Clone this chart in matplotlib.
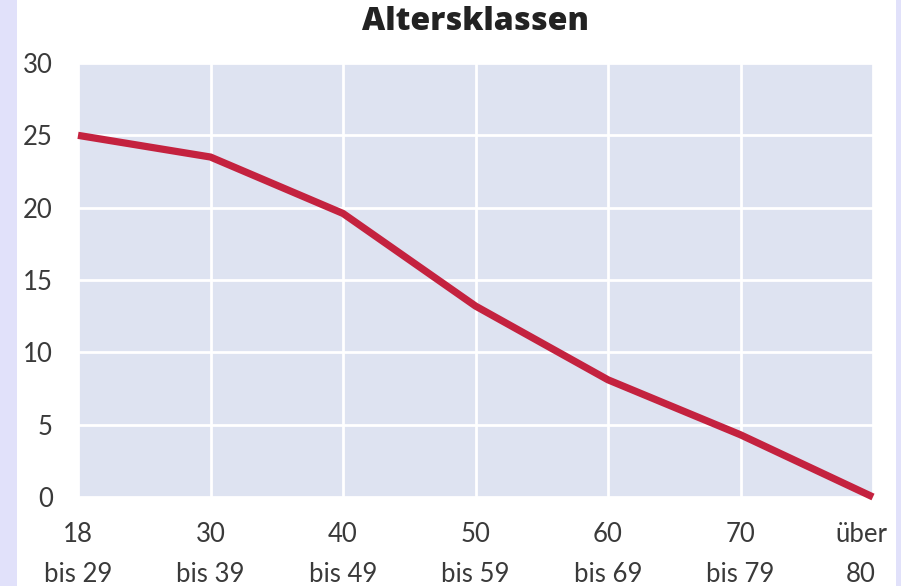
import matplotlib
matplotlib.use("Agg")
import matplotlib.pyplot as plt
import matplotlib.transforms as mtransforms
from matplotlib.patches import Rectangle

# data
klassen = ["18\nbis 29", "30\nbis 39", "40\nbis 49", "50\nbis 59",
           "60\nbis 69", "70\nbis 79", "über\n80"]
werte = [25.0, 23.5, 19.6, 13.2, 8.1, 4.3, 0.0]
y_ticks = [0, 5, 10, 15, 20, 25, 30]

plt.rcParams['font.family'] = ['Lato', 'DejaVu Sans']

fig = plt.figure(figsize=(9.01, 5.86), dpi=100)
fig.patch.set_facecolor("white")

# lavender side strips
fig.patches.append(Rectangle((0, 0), 17 / 901, 1, transform=fig.transFigure,
                             facecolor="#e1e1fa", edgecolor="none", zorder=0))
fig.patches.append(Rectangle((896 / 901, 0), 5 / 901, 1, transform=fig.transFigure,
                             facecolor="#e1e1fa", edgecolor="none", zorder=0))

ax = fig.add_axes([78 / 901, 89 / 586, 795 / 901, 434 / 586])
ax.set_facecolor("#dee3f1")

x = list(range(len(klassen)))
ax.plot(x, werte, color="#c4223f", linewidth=5.2, solid_capstyle="butt",
        solid_joinstyle="miter", zorder=3, clip_on=False)

ax.set_xlim(0, len(klassen) - 1)
ax.set_ylim(0, 30)
ax.set_xticks(x)
ax.set_xticklabels(klassen, linespacing=1.75)
ax.set_yticks(y_ticks)

ax.grid(True, color="white", linewidth=2)
ax.set_axisbelow(True)
for s in ax.spines.values():
    s.set_visible(False)

ax.tick_params(axis="both", length=0, labelsize=18.5, labelcolor="#3a3a3a")
ax.tick_params(axis="y", pad=18)
ax.tick_params(axis="x", pad=18)

# last label sits a bit left of its tick
lbl = ax.get_xticklabels()[-1]
lbl.set_transform(lbl.get_transform() + mtransforms.ScaledTranslation(-12 / 100, 0, fig.dpi_scale_trans))

fig.suptitle("Altersklassen", x=475 / 901, y=1 - 22 / 586, va="center",
             fontsize=23, fontweight="heavy", color="#222222",
             family=["Open Sans", "DejaVu Sans"])

fig.savefig("out.png", dpi=100)
